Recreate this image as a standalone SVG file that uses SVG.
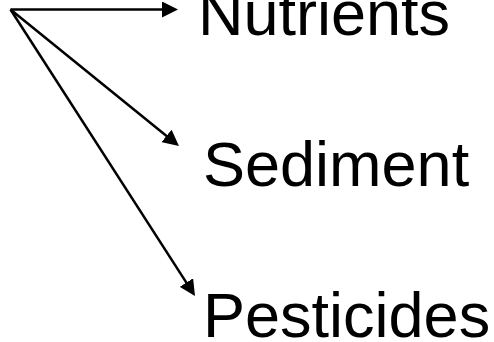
<svg xmlns="http://www.w3.org/2000/svg" width="494" height="342" viewBox="0 0 494 342">
  <style>
    .conn { stroke: #000; stroke-width: 2.5; fill: none; marker-end: url(#arrow); }
    .label { font-family: "Liberation Sans", Arial, sans-serif; font-size: 63px; fill: #000; }
  </style>
  <defs>
    <marker id="arrow" viewBox="0 0 16 16" markerWidth="16" markerHeight="16" refX="6" refY="8" orient="auto" markerUnits="userSpaceOnUse">
      <path d="M0,0 L16,8 L0,16 Z" fill="#000"/>
    </marker>
  </defs>
  <rect width="494" height="342" fill="#fff"/>
  <g id="connectors">
    <path class="conn" d="M10.5,9.5 L168,9.5"/>
    <path class="conn" d="M10.5,9.5 L171.2,139.7"/>
    <path class="conn" d="M10.5,9.5 L189.6,287.6"/>
  </g>
  <g id="nutrients"><text class="label" x="198" y="35">Nutrients</text></g>
  <g id="sediment"><text class="label" x="203" y="186">Sediment</text></g>
  <g id="pesticides"><text class="label" x="203" y="337">Pesticides</text></g>
</svg>
